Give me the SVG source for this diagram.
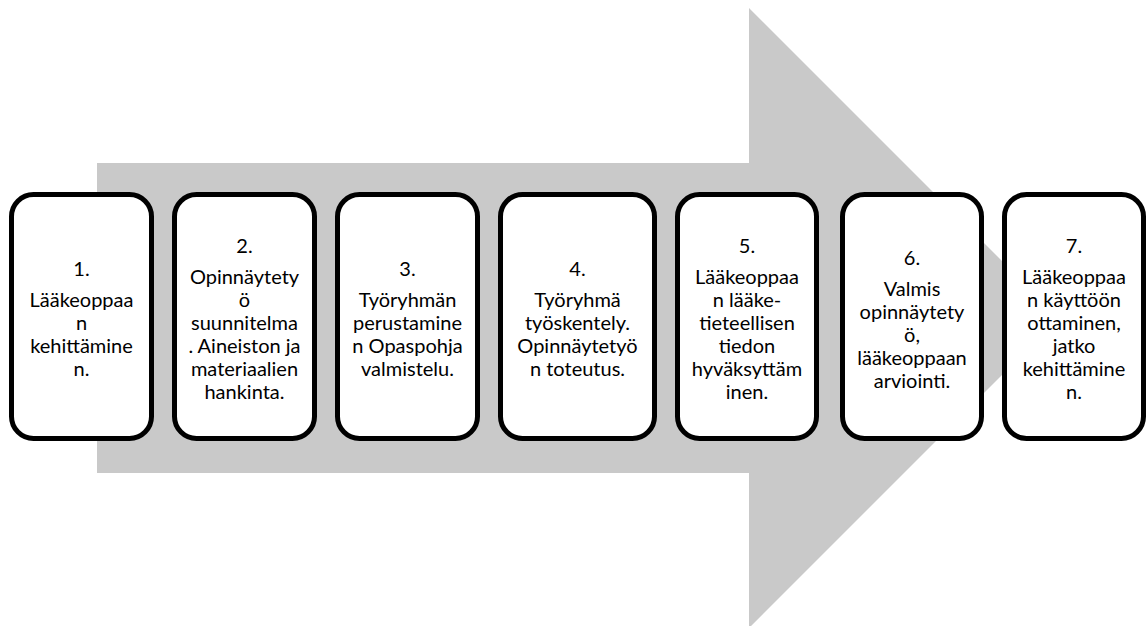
<svg xmlns="http://www.w3.org/2000/svg" width="1148" height="626" viewBox="0 0 1148 626">
<style>
.box{fill:#fff;stroke:#000;stroke-width:5}
.t{font-family:Lato,"Liberation Sans",sans-serif;font-size:20px;fill:#000;text-anchor:middle}
</style>
<rect width="1148" height="626" fill="#fff"/>
<g id="arrow">
<polygon points="97,163 749,163 749,8 1059,318 749,628 749,473 97,473" fill="#C9C9C9"/>
</g>
<g id="connectors"></g>
<g id="n1">
<rect class="box" x="11.5" y="194.5" width="140" height="244" rx="22"/>
<text class="t" x="81.5" y="276">1.</text>
<text class="t" x="81.5" y="307">Lääkeoppaa</text>
<text class="t" x="81.5" y="330">n</text>
<text class="t" x="81.5" y="353">kehittämine</text>
<text class="t" x="81.5" y="376">n.</text>
</g>
<g id="n2">
<rect class="box" x="174.5" y="194.5" width="140" height="244" rx="22"/>
<text class="t" x="244.5" y="253">2.</text>
<text class="t" x="244.5" y="284">Opinnäytety</text>
<text class="t" x="244.5" y="307">ö</text>
<text class="t" x="244.5" y="330">suunnitelma</text>
<text class="t" x="244.5" y="353">. Aineiston ja</text>
<text class="t" x="244.5" y="376">materiaalien</text>
<text class="t" x="244.5" y="399">hankinta.</text>
</g>
<g id="n3">
<rect class="box" x="337.5" y="194.5" width="140" height="244" rx="22"/>
<text class="t" x="407.5" y="276">3.</text>
<text class="t" x="407.5" y="307">Työryhmän</text>
<text class="t" x="407.5" y="330">perustamine</text>
<text class="t" x="407.5" y="353">n Opaspohja</text>
<text class="t" x="407.5" y="376">valmistelu.</text>
</g>
<g id="n4">
<rect class="box" x="500.5" y="194.5" width="154" height="244" rx="22"/>
<text class="t" x="577.5" y="276">4.</text>
<text class="t" x="577.5" y="307">Työryhmä</text>
<text class="t" x="577.5" y="330">työskentely.</text>
<text class="t" x="577.5" y="353">Opinnäytetyö</text>
<text class="t" x="577.5" y="376">n toteutus.</text>
</g>
<g id="n5">
<rect class="box" x="677.5" y="194.5" width="139" height="244" rx="22"/>
<text class="t" x="747" y="253">5.</text>
<text class="t" x="747" y="284">Lääkeoppaa</text>
<text class="t" x="747" y="307">n lääke-</text>
<text class="t" x="747" y="330">tieteellisen</text>
<text class="t" x="747" y="353">tiedon</text>
<text class="t" x="747" y="376">hyväksyttäm</text>
<text class="t" x="747" y="399">inen.</text>
</g>
<g id="n6">
<rect class="box" x="842.5" y="194.5" width="139" height="244" rx="22"/>
<text class="t" x="912" y="264.5">6.</text>
<text class="t" x="912" y="295.5">Valmis</text>
<text class="t" x="912" y="318.5">opinnäytety</text>
<text class="t" x="912" y="341.5">ö,</text>
<text class="t" x="912" y="364.5">lääkeoppaan</text>
<text class="t" x="912" y="387.5">arviointi.</text>
</g>
<g id="n7">
<rect class="box" x="1004.5" y="194.5" width="139" height="244" rx="22"/>
<text class="t" x="1074" y="253">7.</text>
<text class="t" x="1074" y="284">Lääkeoppaa</text>
<text class="t" x="1074" y="307">n käyttöön</text>
<text class="t" x="1074" y="330">ottaminen,</text>
<text class="t" x="1074" y="353">jatko</text>
<text class="t" x="1074" y="376">kehittämine</text>
<text class="t" x="1074" y="399">n.</text>
</g>
</svg>
